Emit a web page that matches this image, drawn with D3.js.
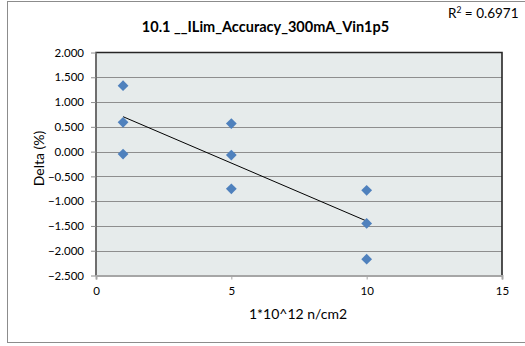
<!DOCTYPE html>
<html><head><meta charset="utf-8">
<script src="https://cdn.jsdelivr.net/npm/d3@7"></script>
<style>body{margin:0;background:#fff}svg{display:block}text{font-family:Lato,"Open Sans",sans-serif;fill:#000}</style>
</head><body><svg id="c" width="525" height="346"></svg>
<script>
const xValues = [1, 1, 1, 5, 5, 5, 10, 10, 10];
const yValues = [1.33, 0.59, -0.05, 0.565, -0.07, -0.75, -0.78, -1.45, -2.17];
const xTicks = [0, 5, 10, 15];
const yTicks = [2, 1.5, 1, 0.5, 0, -0.5, -1, -1.5, -2, -2.5];
const title = "10.1 __ILim_Accuracy_300mA_Vin1p5";
const xLabel = "1*10^12 n/cm2";
const yLabel = "Delta (%)";
const r2Text = "0.6971";

const svg = d3.select("#c");
const L = 96, R = 502, T = 52.5, B = 275.5;
const x = d3.scaleLinear().domain([0, 15]).range([L, R]);
const y = d3.scaleLinear().domain([-2.5, 2]).range([B, T]);

svg.append("rect").attr("x", 7.5).attr("y", 1.5).attr("width", 530).attr("height", 341)
  .attr("fill", "#fff").attr("stroke", "#8c8c8c").attr("stroke-width", 1);

svg.append("rect").attr("x", L).attr("y", T).attr("width", R - L).attr("height", B - T)
  .attr("fill", "#e6ebeb");

// gridlines
svg.append("g").selectAll("line").data(yTicks.filter(d => d !== -2.5 && d !== 2)).join("line")
  .attr("x1", L).attr("x2", R).attr("y1", d => Math.round(y(d)) + 0.5).attr("y2", d => Math.round(y(d)) + 0.5)
  .attr("stroke", "#8e8e8e").attr("stroke-width", 1);

// plot border
svg.append("path").attr("d", `M${L},${B}V${T}H${R}V${B}`).attr("fill", "none")
  .attr("stroke", "#262626").attr("stroke-width", 1.6);
svg.append("line").attr("x1", L).attr("x2", L).attr("y1", T).attr("y2", B)
  .attr("stroke", "#7a7a7a").attr("stroke-width", 1.5);

// axes
const yAxis = d3.axisLeft(y).tickValues(yTicks).tickFormat(d3.format(".3f")).tickSize(5).tickPadding(7);
const gy = svg.append("g").attr("transform", `translate(${L},0)`).call(yAxis);
gy.select(".domain").remove();
gy.selectAll(".tick line").attr("stroke", "#8e8e8e");
gy.selectAll(".tick text").style("font-size", "11.5px").attr("fill", "#000");

const xAxis = d3.axisBottom(x).tickValues(xTicks).tickFormat(d3.format("d")).tickSize(4).tickPadding(7);
const gx = svg.append("g").attr("transform", `translate(0,${B})`).call(xAxis);
gx.select(".domain").attr("stroke", "#a6a6a6").attr("stroke-width", 2);
gx.selectAll(".tick line").attr("stroke", "#a6a6a6");
gx.selectAll(".tick text").style("font-size", "11.5px").attr("fill", "#000");

// trendline (least squares)
const mx = d3.mean(xValues), my = d3.mean(yValues);
const sxy = d3.sum(xValues, (v, i) => (v - mx) * (yValues[i] - my));
const sxx = d3.sum(xValues, v => (v - mx) ** 2);
const slope = sxy / sxx, icpt = my - slope * mx;
const x0 = d3.min(xValues), x1 = d3.max(xValues);
svg.append("line").attr("x1", x(x0)).attr("y1", y(icpt + slope * x0))
  .attr("x2", x(x1)).attr("y2", y(icpt + slope * x1)).attr("stroke", "#000").attr("stroke-width", 1);

// points
const sym = d3.symbol().type(d3.symbolSquare).size(58);
svg.append("g").selectAll("path").data(xValues).join("path")
  .attr("d", sym)
  .attr("transform", (d, i) => `translate(${x(d)},${y(yValues[i])}) rotate(45)`)
  .attr("fill", "#4f81bd");

// texts
svg.append("text").attr("x", 265.5).attr("y", 31.5).attr("text-anchor", "middle")
  .style("font-size", "14.5px").style("font-weight", "bold").text(title);
const r2 = svg.append("text").attr("x", 448).attr("y", 18).style("font-size", "13.5px");
r2.append("tspan").text("R");
r2.append("tspan").attr("dy", -5).style("font-size", "8.5px").text("2");
r2.append("tspan").attr("dy", 5).text(" = " + r2Text);
svg.append("text").attr("x", 298).attr("y", 319).attr("text-anchor", "middle")
  .style("font-size", "14px").text(xLabel);
svg.append("text").attr("transform", "translate(44,158.5) rotate(-90)").attr("text-anchor", "middle")
  .style("font-size", "14px").text(yLabel);
</script></body></html>
